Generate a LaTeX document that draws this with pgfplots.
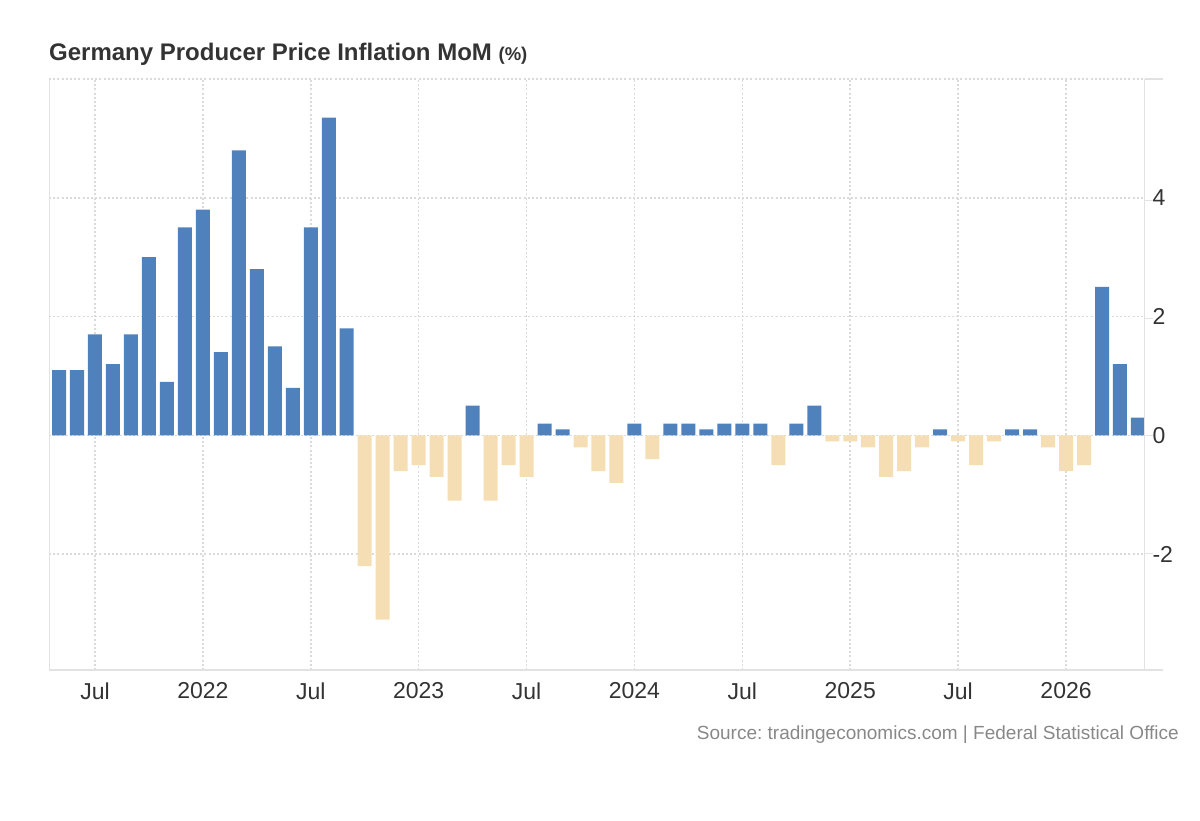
\documentclass[border=0pt]{standalone}
\usepackage{fontspec}
\setmainfont{Liberation Sans}
\usepackage{pgfplots}
\usepackage{pgfplotstable}
\pgfplotsset{compat=1.18}
\frenchspacing
\definecolor{barblue}{RGB}{79,129,189}
\definecolor{barbeige}{RGB}{245,222,179}
\definecolor{axgray}{RGB}{226,226,226}
\definecolor{gridgray}{RGB}{218,218,218}
\definecolor{txt}{RGB}{51,51,51}
\definecolor{srcgray}{RGB}{136,136,136}

% index 0 = May 2021 ... 60 = May 2026
\pgfplotstableread{
x y
0 1.1
1 1.1
2 1.7
3 1.2
4 1.7
5 3.0
6 0.9
7 3.5
8 3.8
9 1.4
10 4.8
11 2.8
12 1.5
13 0.8
14 3.5
15 5.35
16 1.8
23 0.5
27 0.2
28 0.1
32 0.2
34 0.2
35 0.2
36 0.1
37 0.2
38 0.2
39 0.2
41 0.2
42 0.5
49 0.1
53 0.1
54 0.1
58 2.5
59 1.2
60 0.3
}\pos

\pgfplotstableread{
x y
17 -2.2
18 -3.1
19 -0.6
20 -0.5
21 -0.7
22 -1.1
24 -1.1
25 -0.5
26 -0.7
29 -0.2
30 -0.6
31 -0.8
33 -0.4
40 -0.5
43 -0.1
44 -0.1
45 -0.2
46 -0.7
47 -0.6
48 -0.2
50 -0.1
51 -0.5
52 -0.1
55 -0.2
56 -0.6
57 -0.5
}\negt

\begin{document}
\begin{tikzpicture}[x=1pt,y=1pt]
\path[use as bounding box] (0pt,0pt) rectangle (1200pt,820pt);
\begin{axis}[
  at={(49pt,150pt)}, anchor=south west,
  scale only axis, width=1096pt, height=591pt,
  xmin=-0.557, xmax=60.39, ymin=-3.95, ymax=6,
  axis line style={draw=none},
  ybar, bar width=14pt,
  xtick={2,8,14,20,26,32,38,44,50,56},
  xticklabels={Jul,2022,Jul,2023,Jul,2024,Jul,2025,Jul,2026},
  ytick={-2,0,2,4,6},
  yticklabels={-2,0,2,4,{}},
  yticklabel pos=right,
  major tick length=0pt,
  grid=major,
  grid style={gridgray, line width=1.6pt, dash pattern=on 2pt off 2.2pt},
  ticklabel style={font=\fontsize{23}{23}\selectfont, text=txt},
  xticklabel style={yshift=-9pt},
  yticklabel style={anchor=west, xshift=4pt},
]
\addplot[fill=barblue, draw=none, bar shift=0pt] table[x=x,y=y] {\pos};
\addplot[fill=barbeige, draw=none, bar shift=0pt] table[x=x,y=y] {\negt};
\draw[axgray, line width=1.6pt] (rel axis cs:0,1) -- (rel axis cs:0,0) -- (rel axis cs:1,0) -- (rel axis cs:1,1);
\end{axis}
\draw[axgray, line width=1.6pt] (1145pt,150pt) -- (1163pt,150pt);
\draw[axgray, line width=1.6pt] (1145pt,741pt) -- (1163pt,741pt);
\foreach \yy in {200.7,318.3,435.9,553.5}{
  \draw[axgray, line width=1.2pt] (1145pt,820pt-\yy pt) -- (1153pt,820pt-\yy pt);
}
\node[anchor=base west, inner sep=0, text=txt, font=\bfseries\fontsize{24}{24}\selectfont] at (49pt,759pt)
  {Germany Producer Price Inflation MoM {\fontsize{18.5}{18}\selectfont (\%)}};
\node[anchor=base east, inner sep=0, text=srcgray, font=\fontsize{19}{19}\selectfont] at (1179pt,81pt)
  {Source: tradingeconomics.com | Federal Statistical Office};
\end{tikzpicture}
\end{document}
